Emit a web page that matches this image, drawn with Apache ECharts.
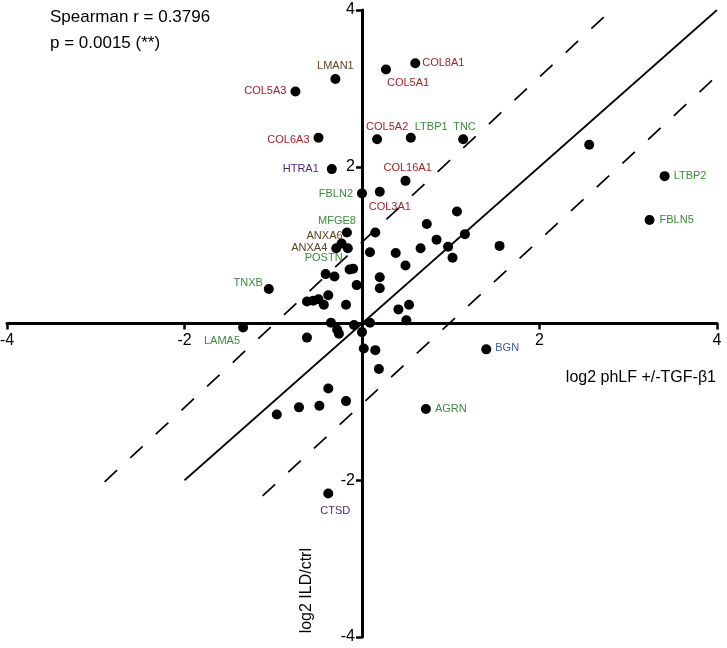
<!DOCTYPE html>
<html>
<head>
<meta charset="utf-8">
<script src="https://cdn.jsdelivr.net/npm/echarts@6/dist/echarts.min.js"></script>
<style>
html,body{margin:0;padding:0;background:#fff;}
#chart{width:727px;height:648px;}
</style>
</head>
<body>
<div id="chart"></div>
<script>
// ---- Data ----
var labeledNames = ['COL8A1','COL5A1','LMAN1','COL5A3','COL6A3','COL5A2','LTBP1','TNC','HTRA1','COL16A1','FBLN2','COL3A1','MFGE8','ANXA6','ANXA4','POSTN','TNXB','LAMA5','BGN','AGRN','LTBP2','FBLN5','CTSD'];
var labeledX = [0.60, 0.27, -0.30, -0.75, -0.49, 0.17, 0.55, 1.14, -0.34, 0.49, 0.00, 0.20, -0.17, -0.23, -0.29, -0.14, -1.05, -1.34, 1.40, 0.72, 3.41, 3.24, -0.38];
var labeledY = [3.32, 3.24, 3.12, 2.96, 2.37, 2.35, 2.37, 2.35, 1.97, 1.82, 1.66, 1.68, 1.16, 1.02, 0.96, 0.69, 0.44, -0.05, -0.33, -1.09, 1.88, 1.32, -2.17];

var otherX = [2.56, 1.07, 0.73, 0.15, 0.84, 1.16, 0.97, 0.66, 0.38, 0.09, 1.02, 1.55, 0.49, 0.20, 0.20, 0.53, 0.41, 0.50, 0.09, 0.00, -0.09, -0.35, -0.28, -0.26, -0.62, 0.02, 0.15, 0.19, -0.38, -0.18, -0.48, -0.71, -0.96, -0.62, -0.55, -0.49, -0.38, -0.43, -0.18, -0.06, -0.41, -0.31, -0.10, -0.16];
var otherY = [2.28, 1.43, 1.27, 1.16, 1.07, 1.14, 0.98, 0.96, 0.90, 0.91, 0.84, 0.99, 0.74, 0.59, 0.45, 0.24, 0.18, 0.04, 0.01, -0.11, -0.02, 0.01, -0.08, -0.13, -0.18, -0.32, -0.34, -0.58, -0.83, -0.99, -1.05, -1.07, -1.16, 0.28, 0.29, 0.31, 0.36, 0.24, 0.24, 0.49, 0.63, 0.60, 0.70, 0.96];

var identityLine = [[-2, -2], [4, 4]];
var upperBand = [[-2.9, -2.02], [2.81, 4]];
var lowerBand = [[-1.12, -2.2], [4, 3.16]];

var xTicks = [-4, -2, 2, 4];
var yTicks = [-4, -2, 2, 4];
var statText = ['Spearman r = 0.3796', 'p = 0.0015 (**)'];
var xTitle = 'log2 phLF +/-TGF-\u03b21';
var yTitle = 'log2 ILD/ctrl';

// ---- Label styling (positions relative to dot centre, colours) ----
var RED = '#a3242b', GREEN = '#3a8b3a', BROWN = '#5e4520', PURPLE = '#4a2878', BLUE = '#3e5b9c';
var labelStyle = {
  COL8A1: [RED, 'left', 7, 0],
  COL5A1: [RED, 'left', 1, 13],
  LMAN1: [BROWN, 'center', 0, -13],
  COL5A3: [RED, 'right', -9, -1],
  COL6A3: [RED, 'right', -9, 2],
  COL5A2: [RED, 'left', -11, -12],
  LTBP1: [GREEN, 'left', 4, -11],
  TNC: [GREEN, 'left', -10, -12],
  HTRA1: [PURPLE, 'right', -13, 0],
  COL16A1: [RED, 'left', -22, -13],
  FBLN2: [GREEN, 'right', -9, 1],
  COL3A1: [RED, 'left', -11, 15],
  MFGE8: [GREEN, 'right', 9, -12],
  ANXA6: [BROWN, 'right', 1, -8],
  ANXA4: [BROWN, 'right', -9, 0],
  POSTN: [GREEN, 'right', -7, -11],
  TNXB: [GREEN, 'right', -6, -6],
  LAMA5: [GREEN, 'right', -3, 14],
  BGN: [BLUE, 'left', 9, -1],
  AGRN: [GREEN, 'left', 9, 0],
  LTBP2: [GREEN, 'left', 9, 0],
  FBLN5: [GREEN, 'left', 10, 0],
  CTSD: [PURPLE, 'center', 7, 17]
};

var DOT = 10;
var FONT = '"Liberation Sans", Arial, Helvetica, sans-serif';
var GRID = { left: 7, right: 10, top: 10, bottom: 11 };
var W = 727, H = 648;
var gridW = W - GRID.left - GRID.right;
var gridH = H - GRID.top - GRID.bottom;

var scatterData = [];
for (var i = 0; i < otherX.length; i++) {
  scatterData.push({ value: [otherX[i], otherY[i]] });
}
var labeledData = [];
for (var j = 0; j < labeledNames.length; j++) {
  var s = labelStyle[labeledNames[j]];
  labeledData.push({
    name: labeledNames[j],
    value: [labeledX[j], labeledY[j]],
    label: {
      show: true,
      formatter: '{b}',
      position: [DOT / 2 + s[2], DOT / 2 + s[3]],
      align: s[1],
      verticalAlign: 'middle',
      color: s[0],
      opacity: 1,
      fontSize: 11,
      fontFamily: FONT
    }
  });
}

function tickFmt(list) {
  return function (v) { return list.indexOf(v) >= 0 ? String(v) : ''; };
}

var axisCommon = {
  type: 'value',
  min: -4, max: 4, interval: 2,
  axisLine: { show: true, onZero: false, lineStyle: { color: '#000', width: 3 } },
  axisTick: { show: true, length: 6, lineStyle: { color: '#000', width: 2.5 } },
  splitLine: { show: false }
};

var chart = echarts.init(document.getElementById('chart'), null, { renderer: 'canvas' });
chart.setOption({
  animation: false,
  backgroundColor: '#fff',
  grid: { left: GRID.left, right: GRID.right, top: GRID.top, bottom: GRID.bottom, containLabel: false, outerBoundsMode: 'none' },
  xAxis: Object.assign({}, axisCommon, {
    position: 'bottom',
    offset: -gridH / 2,
    axisLabel: { formatter: tickFmt(xTicks), fontSize: 16, color: '#000', margin: 9, fontFamily: FONT }
  }),
  yAxis: Object.assign({}, axisCommon, {
    position: 'left',
    offset: -gridW / 2,
    axisLabel: { formatter: tickFmt(yTicks), fontSize: 16, color: '#000', margin: 7, fontFamily: FONT }
  }),
  graphic: [
    { type: 'text', left: 50, top: 9, style: { text: statText[0], font: '17px ' + FONT, fill: '#000' } },
    { type: 'text', left: 50, top: 35, style: { text: statText[1], font: '17px ' + FONT, fill: '#000' } },
    { type: 'text', right: 11, top: 370, style: { text: xTitle, font: '16px ' + FONT, fill: '#000' } },
    { type: 'text', left: 299, top: 548, rotation: Math.PI / 2, style: { text: yTitle, font: '16px ' + FONT, fill: '#000' } }
  ],
  series: [
    { type: 'line', data: identityLine, symbol: 'none', silent: true, z: 1,
      lineStyle: { color: '#000', width: 1.7, type: 'solid' } },
    { type: 'line', data: upperBand, symbol: 'none', silent: true, z: 1,
      lineStyle: { color: '#000', width: 1.7, type: [17, 18] } },
    { type: 'line', data: lowerBand, symbol: 'none', silent: true, z: 1,
      lineStyle: { color: '#000', width: 1.7, type: [17, 18] } },
    { type: 'scatter', data: scatterData, symbol: 'circle', symbolSize: DOT, z: 3,
      itemStyle: { color: '#000', opacity: 1 } },
    { type: 'scatter', data: labeledData, symbol: 'circle', symbolSize: DOT, z: 3,
      itemStyle: { color: '#000', opacity: 1 } }
  ]
});
</script>
</body>
</html>
